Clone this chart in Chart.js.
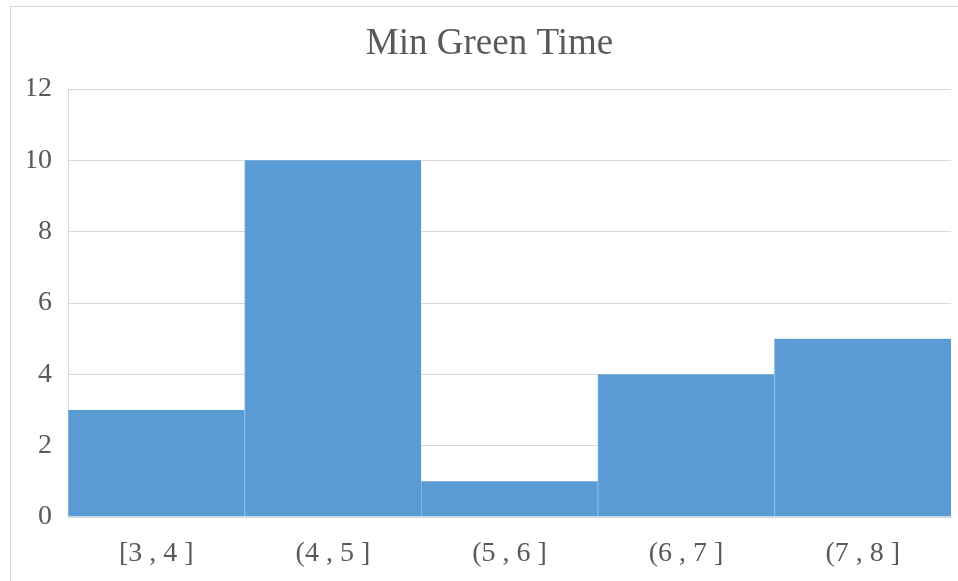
<!DOCTYPE html>
<html>
<head>
<meta charset="utf-8">
<script src="https://cdn.jsdelivr.net/npm/chart.js@4"></script>
<style>
  html, body { margin: 0; padding: 0; background: #fff; overflow: hidden; }
  #frame { position: absolute; left: 10px; top: 6px; width: 1000px; height: 700px; border: 1px solid #d9d9d9; }
  #wrap { position: absolute; left: 0; top: 0; width: 958px; height: 581px; }
</style>
</head>
<body>
<div id="frame"></div>
<div id="wrap"><canvas id="chart" width="958" height="581"></canvas></div>
<script>
// histogram bins and counts
const bins = ["[3 , 4 ]", "(4 , 5 ]", "(5 , 6 ]", "(6 , 7 ]", "(7 , 8 ]"];
const counts = [3, 10, 1, 4, 5];
const chartTitle = "Min Green Time";

const serif = "'Liberation Serif', 'Times New Roman', serif";
const textGrey = "#595959";

new Chart(document.getElementById('chart'), {
  type: 'bar',
  data: {
    labels: bins,
    datasets: [{
      data: counts,
      backgroundColor: '#5b9bd5',
      borderColor: '#8ab8e2',
      borderWidth: { left: 1, right: 0, top: 0, bottom: 0 },
      borderSkipped: false,
      barPercentage: 1,
      categoryPercentage: 1
    }]
  },
  options: {
    responsive: false,
    animation: false,
    // left padding pushes the title centre right, y axis width keeps plot at x=68
    layout: { padding: { left: 28, right: 7, top: 0, bottom: 0 } },
    plugins: {
      legend: { display: false },
      tooltip: { enabled: false },
      title: {
        display: true,
        text: chartTitle,
        color: textGrey,
        font: { family: serif, size: 37, weight: 'normal' },
        padding: { top: 22, bottom: 22.6 }
      }
    },
    scales: {
      x: {
        grid: { display: false },
        border: { display: true, color: '#d9d9d9', width: 1 },
        ticks: { color: textGrey, font: { family: serif, size: 28 }, padding: 12, maxRotation: 0 },
        afterFit: (s) => { s.height = 64; }
      },
      y: {
        min: 0,
        max: 12,
        grid: { color: '#d9d9d9', drawTicks: false },
        border: { display: true, color: '#d9d9d9', width: 1 },
        ticks: { stepSize: 2, color: textGrey, font: { family: serif, size: 28 }, padding: 16 },
        afterFit: (s) => { s.width = 40; }
      }
    }
  }
});
</script>
</body>
</html>
